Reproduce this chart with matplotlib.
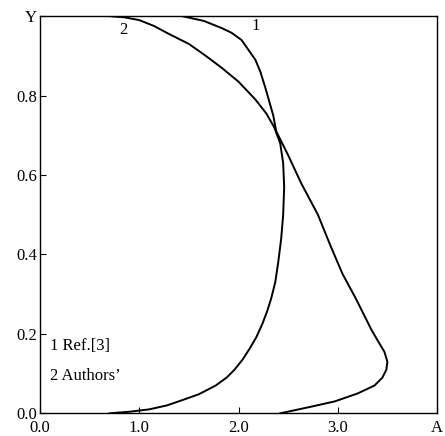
import matplotlib.pyplot as plt

# curve 1: Ref.[3]
ref_x = [2.42, 2.7, 2.97, 3.2, 3.37, 3.45, 3.49, 3.5, 3.47, 3.41, 3.34, 3.26, 3.18,
         3.05, 2.93, 2.8, 2.63, 2.5, 2.38, 2.35, 2.31, 2.27, 2.22, 2.17, 2.1, 2.03,
         1.93, 1.83, 1.65, 1.43]
ref_y = [0.0, 0.015, 0.03, 0.05, 0.07, 0.09, 0.11, 0.13, 0.155, 0.18, 0.21, 0.25, 0.29,
         0.35, 0.42, 0.5, 0.58, 0.65, 0.71, 0.75, 0.785, 0.82, 0.86, 0.89, 0.915, 0.94,
         0.958, 0.97, 0.988, 1.0]

# curve 2: Authors'
auth_x = [0.7, 0.9, 1.1, 1.28, 1.43, 1.6, 1.77, 1.88, 1.96, 2.04, 2.11, 2.18, 2.24,
          2.29, 2.33, 2.37, 2.4, 2.43, 2.45, 2.46, 2.45, 2.42, 2.36, 2.28, 2.17, 2.0,
          1.83, 1.67, 1.5, 1.3, 1.15, 1.0, 0.85, 0.7]
auth_y = [0.0, 0.004, 0.01, 0.02, 0.033, 0.048, 0.07, 0.09, 0.11, 0.135, 0.162, 0.192,
          0.225, 0.258, 0.29, 0.33, 0.38, 0.44, 0.5, 0.57, 0.63, 0.68, 0.72, 0.755, 0.79,
          0.835, 0.87, 0.90, 0.93, 0.955, 0.975, 0.99, 0.997, 1.0]

x_ticks = [0.0, 1.0, 2.0, 3.0, 4.0]
x_labels = ['0.0', '1.0', '2.0', '3.0', 'A']
y_ticks = [0.0, 0.2, 0.4, 0.6, 0.8, 1.0]
y_labels = ['0.0', '0.2', '0.4', '0.6', '0.8', 'Y']

plt.rcParams['font.family'] = ['Liberation Serif', 'DejaVu Serif']

fig = plt.figure(figsize=(4.45, 4.36), dpi=100)
ax = fig.add_axes([0.09, 0.052, 0.892, 0.911])

ax.plot(ref_x, ref_y, color='black', linewidth=1.4, solid_joinstyle='round')
ax.plot(auth_x, auth_y, color='black', linewidth=1.4, solid_joinstyle='round')

ax.set_xlim(0, 4.0)
ax.set_ylim(0, 1.0)
ax.set_xticks(x_ticks)
ax.set_xticklabels(x_labels)
ax.set_yticks(y_ticks)
ax.set_yticklabels(y_labels)
ax.tick_params(direction='in', length=4, labelsize=12)
ax.tick_params(axis='x', pad=5)
ax.tick_params(axis='y', pad=2)
for s in ax.spines.values():
    s.set_linewidth(1.0)

ax.text(2.13, 0.965, '1', fontsize=12)
ax.text(0.8, 0.955, '2', fontsize=12)
ax.text(0.1, 0.16, '1 Ref.[3]', fontsize=12)
ax.text(0.1, 0.085, '2 Authors\u2019', fontsize=12)

fig.savefig('out.png', dpi=100)
